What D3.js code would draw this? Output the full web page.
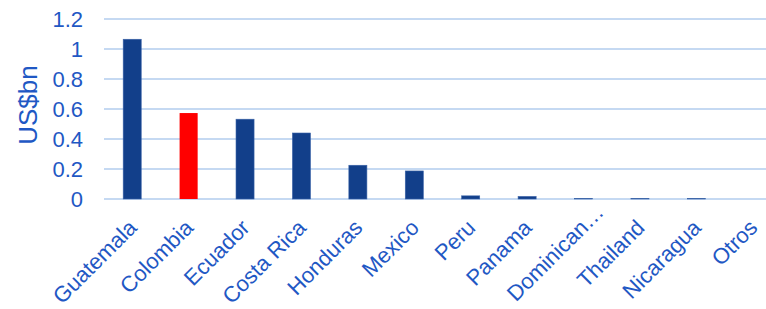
<!DOCTYPE html>
<html>
<head>
<meta charset="utf-8">
<script src="https://cdn.jsdelivr.net/npm/d3@7"></script>
<style>
  body { margin: 0; background: #fff; }
  text { font-family: "Liberation Sans", Arial, sans-serif; fill: #1f58c4; }
</style>
</head>
<body>
<div id="chart"></div>
<script>
// data
var countries = ["Guatemala", "Colombia", "Ecuador", "Costa Rica", "Honduras", "Mexico",
  "Peru", "Panama", "Dominican…", "Thailand", "Nicaragua", "Otros"];
var values = [1.065, 0.573, 0.532, 0.44, 0.225, 0.187, 0.021, 0.017, 0.003, 0.003, 0.003, 0];
var highlight = ["Colombia"];
var yTicks = [0, 0.2, 0.4, 0.6, 0.8, 1, 1.2];
var yTickLabels = ["0", "0.2", "0.4", "0.6", "0.8", "1", "1.2"];

var width = 766, height = 309;
var plot = { left: 104, right: 781, top: 19, bottom: 199 };

var svg = d3.select("#chart").append("svg")
  .attr("width", width)
  .attr("height", height);

//Scales
var x = d3.scaleBand()
  .domain(countries)
  .range([plot.left, plot.right])
  .paddingInner(0.68)
  .paddingOuter(0.34);

var y = d3.scaleLinear()
  .domain([0, 1.2])
  .range([plot.bottom, plot.top]);

//Gridlines
svg.append("g")
  .selectAll("line")
  .data(yTicks)
  .enter()
  .append("line")
  .attr("x1", plot.left)
  .attr("x2", width)
  .attr("y1", function(d) { return y(d); })
  .attr("y2", function(d) { return y(d); })
  .attr("stroke", "#c5d9f2")
  .attr("stroke-width", 2);

//Y axis labels
svg.append("g")
  .selectAll("text")
  .data(yTicks)
  .enter()
  .append("text")
  .attr("x", 83)
  .attr("y", function(d) { return y(d); })
  .attr("dy", "0.36em")
  .attr("text-anchor", "end")
  .style("font-size", "22px")
  .text(function(d, i) { return yTickLabels[i]; });

svg.append("text")
  .attr("transform", "translate(37," + ((plot.top + plot.bottom) / 2 - 4) + ") rotate(-90)")
  .attr("text-anchor", "middle")
  .style("font-size", "26px")
  .text("US$bn");

//Bars
svg.append("g")
  .selectAll("rect")
  .data(countries)
  .enter()
  .append("rect")
  .attr("x", function(d) { return x(d); })
  .attr("y", function(d, i) { return y(values[i]); })
  .attr("width", x.bandwidth())
  .attr("height", function(d, i) { return plot.bottom - y(values[i]); })
  .attr("fill", function(d) { return highlight.indexOf(d) >= 0 ? "#ff0000" : "#123f8a"; })
  .attr("stroke", function(d) { return highlight.indexOf(d) >= 0 ? "none" : "#3a63a8"; })
  .attr("stroke-width", 0.6);

//X axis labels, the truncated one keeps its word end at the tick and lets the "…" run past it
svg.append("g")
  .selectAll("text")
  .data(countries)
  .enter()
  .append("text")
  .attr("transform", function(d) {
    return "translate(" + (x(d) + x.bandwidth() / 2 + 6) + "," + (plot.bottom + 30) + ") rotate(-45)";
  })
  .attr("text-anchor", "end")
  .style("font-size", "22px")
  .text(function(d) { return d; })
  .each(function(d) {
    if (d.slice(-1) === "…") {
      d3.select(this).attr("dx", this.getSubStringLength(d.length - 1, 1));
    }
  });
</script>
</body>
</html>
